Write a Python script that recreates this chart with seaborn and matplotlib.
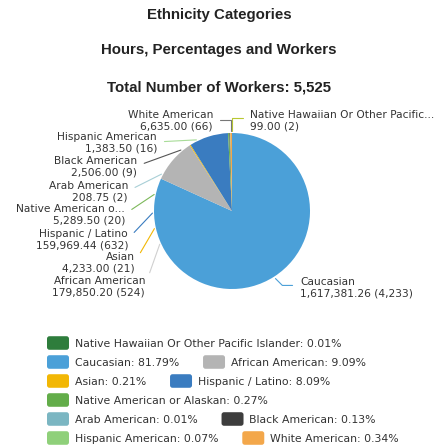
import matplotlib
matplotlib.use("Agg")
import matplotlib.pyplot as plt
import seaborn as sns
import numpy as np
from matplotlib.patches import FancyBboxPatch, Wedge
from matplotlib.legend_handler import HandlerPatch

sns.set_theme(style="white")
plt.rcParams['font.family'] = ['DejaVu Sans']

categories = ["Native Hawaiian Or Other Pacific Islander", "Caucasian", "African American",
              "Asian", "Hispanic / Latino", "Native American or Alaskan", "Arab American",
              "Black American", "Hispanic American", "White American"]
short_labels = ["Native Hawaiian Or Other Pacific...", "Caucasian", "African American",
                "Asian", "Hispanic / Latino", "Native American o...", "Arab American",
                "Black American", "Hispanic American", "White American"]
hours = [99.00, 1617381.26, 179850.20, 4233.00, 159969.44, 5289.50, 208.75,
         2506.00, 1383.50, 6635.00]
workers = [2, 4233, 524, 21, 632, 20, 2, 9, 16, 66]
colors = ["#2e7d3c", "#4ba0d8", "#b4b4b4", "#f2b705", "#3a7cc0", "#63ad4a",
          "#7bb6c2", "#3d3d3d", "#8fd07a", "#f3a74a"]
line_colors = ["#b8c832", "#4ba0d8", "#d0d0d0", "#f2b705", "#3a7cc0", "#7cb85a",
               "#a8cfd6", "#555555", "#a8dc98", "#777777"]

W, H = 438, 447
fig = plt.figure(figsize=(W / 100, H / 100), dpi=100)

cx, cy, r = 232, 211, 78
ax = fig.add_axes([(cx - r) / W, (H - cy - r) / H, 2 * r / W, 2 * r / H])
wedges, _ = ax.pie(hours, colors=colors, startangle=90, counterclock=False,
                   wedgeprops=dict(linewidth=0))
ax.set_xlim(-1, 1)
ax.set_ylim(-1, 1)
ax.set_aspect("equal")
ax.axis("off")

tc = "#222222"
for txt, yy in [("Ethnicity Categories", 15), ("Hours, Percentages and Workers", 50),
                (f"Total Number of Workers: {sum(workers):,}", 87)]:
    fig.text(0.5, 1 - yy / H, txt, ha="center", va="center",
             fontsize=10.8, fontweight="bold", family="Liberation Sans", color=tc)

# label layout: (text x px, text center y px, side, line target angle or None, connection)
layout = {
    "Native Hawaiian Or Other Pacific Islander": (250, 121, "left", None, "angle,angleA=0,angleB=90,rad=0"),
    "Caucasian": (300, 288, "left", None, "angle,angleA=0,angleB=-45,rad=0"),
    "African American": (145, 287, "right", 204.7, "arc3"),
    "Asian": (135, 263, "right", 192.8, "arc3"),
    "Hispanic / Latino": (128, 240, "right", 181.5, "arc3"),
    "Native American or Alaskan": (125, 215, "right", 168.0, "arc3"),
    "Arab American": (128, 192, "right", 152.4, "arc3"),
    "Black American": (137, 167, "right", 130.0, "arc3"),
    "Hispanic American": (157, 143, "right", 116.6, "arc3"),
    "White American": (213, 121, "right", None, "angle,angleA=0,angleB=90,rad=0"),
}
for i, cat in enumerate(categories):
    w = wedges[i]
    x, y, side, tang, conn = layout[cat]
    if tang is None:
        ang = np.deg2rad((w.theta1 + w.theta2) / 2)
        rr = 1.03
    else:
        ang = np.deg2rad(tang)
        rr = 1.02
    px, py = rr * np.cos(ang), rr * np.sin(ang)
    txt = f"{short_labels[i]}\n{hours[i]:,.2f} ({workers[i]:,})"
    ax.annotate(txt, xy=(px, py), xycoords="data",
                xytext=(x, H - y), textcoords="figure pixels",
                ha=side, va="center", multialignment=side, fontsize=7.7,
                color="#333333", linespacing=1.18, annotation_clip=False,
                arrowprops=dict(arrowstyle="-", color=line_colors[i], lw=0.8,
                                connectionstyle=conn,
                                relpos=(0, 0.62) if side == "left" else (1, 0.55),
                                shrinkA=3, shrinkB=0))


def rounded(legend, orig_handle, xdescent, ydescent, width, height, fontsize):
    return FancyBboxPatch((-xdescent, -ydescent), width, height,
                          boxstyle="round,pad=0,rounding_size=1.8")


hmap = {Wedge: HandlerPatch(patch_func=rounded)}

total = sum(hours)
pct = [h / total * 100 for h in hours]
rows = [[0], [1, 2], [3, 4], [5], [6, 7], [8, 9]]
row_y = [343, 362, 381, 400, 419, 438]
for row, yy in zip(rows, row_y):
    fig.legend([wedges[i] for i in row],
               [f"{categories[i]}: {pct[i]:.2f}%" for i in row],
               ncol=len(row), loc="center left", handler_map=hmap,
               bbox_to_anchor=(47 / W, 1 - yy / H), frameon=False,
               fontsize=7.8, handlelength=2.03, handleheight=1.55,
               handletextpad=0.55, columnspacing=2.2, borderpad=0, borderaxespad=0,
               labelcolor="#333333")

fig.savefig("out.png", dpi=100)
